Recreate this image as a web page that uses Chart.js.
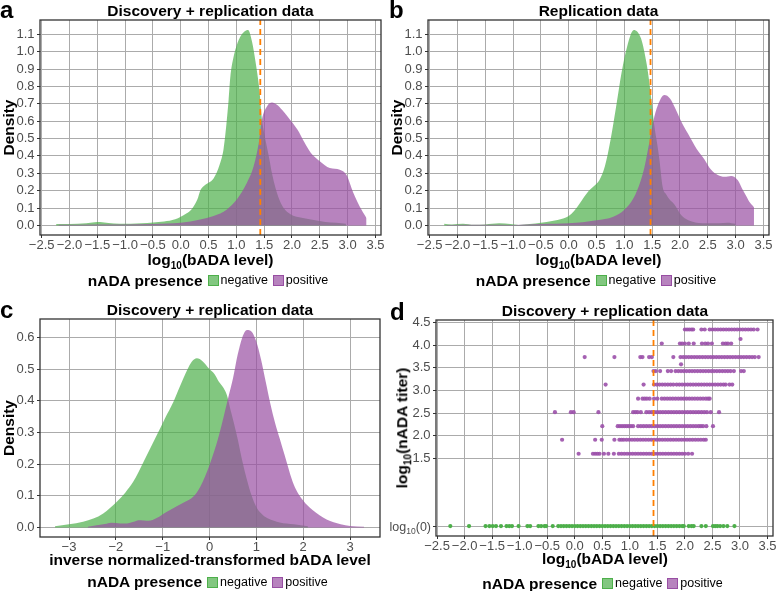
<!DOCTYPE html>
<html>
<head>
<meta charset="utf-8">
<script src="https://cdn.jsdelivr.net/npm/chart.js@4.4.1/dist/chart.umd.min.js"></script>
<style>
body { margin: 0; background: #fff; font-family: "Liberation Sans", Arial, sans-serif; }
#fig { position: relative; width: 777px; height: 591px; overflow: hidden; }
canvas { position: absolute; }
.lbl { position: absolute; line-height: 1; white-space: nowrap; color: #000; }
.letter { font-size: 24px; font-weight: bold; }
.ttl { font-size: 15.5px; font-weight: bold; text-align: center; }
.ttl sub { font-size: 10px; line-height: 0; vertical-align: -4px; }
.leg { display: flex; justify-content: center; align-items: center; height: 16px; }
.leg b { font-size: 15.5px; margin-right: 5px; line-height: 1; }
.leg i { display: inline-block; width: 9px; height: 9px; border: 1px solid; margin-right: 2px; }
.leg span { font-size: 12.5px; margin-right: 5px; line-height: 1; }
.leg .neg { background: rgba(77,175,74,0.7); border-color: #4DAF4A; }
.leg .pos { background: rgba(152,78,163,0.7); border-color: #984EA3; }
.rot { transform: translate(-50%, -50%) rotate(-90deg); }
</style>
</head>
<body>
<div id="fig">
  <canvas id="ca" width="388" height="255" style="left:0;top:0"></canvas>
  <canvas id="cb" width="389" height="255" style="left:388px;top:0"></canvas>
  <canvas id="cc" width="388" height="262" style="left:0;top:295px"></canvas>
  <canvas id="cd" width="389" height="261" style="left:388px;top:295px"></canvas>

  <div class="lbl letter" style="left:0;top:-2px">a</div>
  <div class="lbl letter" style="left:389px;top:-2px">b</div>
  <div class="lbl letter" style="left:0;top:298px">c</div>
  <div class="lbl letter" style="left:390px;top:300px">d</div>

  <div class="lbl ttl" style="left:40px;width:341px;top:2.6px">Discovery + replication data</div>
  <div class="lbl ttl" style="left:428px;width:341px;top:2.6px">Replication data</div>
  <div class="lbl ttl" style="left:40px;width:340px;top:302px">Discovery + replication data</div>
  <div class="lbl ttl" style="left:436px;width:338px;top:302.6px">Discovery + replication data</div>

  <div class="lbl ttl" style="left:40px;width:341px;top:252px">log<sub>10</sub>(bADA level)</div>
  <div class="lbl ttl" style="left:428px;width:341px;top:252px">log<sub>10</sub>(bADA level)</div>
  <div class="lbl ttl" style="left:40px;width:340px;top:552px">inverse normalized-transformed bADA level</div>
  <div class="lbl ttl" style="left:436px;width:338px;top:550.5px">log<sub>10</sub>(bADA level)</div>
  <div class="lbl ttl rot" style="left:401.7px;top:427.5px">log<sub>10</sub>(nADA titer)</div>

  <div class="lbl leg" style="left:40px;width:341px;top:272.7px"><b>nADA presence</b><i class="neg"></i><span>negative</span><i class="pos"></i><span>positive</span></div>
  <div class="lbl leg" style="left:428px;width:341px;top:272.7px"><b>nADA presence</b><i class="neg"></i><span>negative</span><i class="pos"></i><span>positive</span></div>
  <div class="lbl leg" style="left:40px;width:340px;top:574px"><b>nADA presence</b><i class="neg"></i><span>negative</span><i class="pos"></i><span>positive</span></div>
  <div class="lbl leg" style="left:436px;width:338px;top:575.3px"><b>nADA presence</b><i class="neg"></i><span>negative</span><i class="pos"></i><span>positive</span></div>
</div>

<script>
// ---- tick values ----
const abXTicks = [-2.5, -2, -1.5, -1, -0.5, 0, 0.5, 1, 1.5, 2, 2.5, 3, 3.5];
const abYTicks = [0, 0.1, 0.2, 0.3, 0.4, 0.5, 0.6, 0.7, 0.8, 0.9, 1.0, 1.1];
const cXTicks = [-3, -2, -1, 0, 1, 2, 3];
const cYTicks = [0, 0.1, 0.2, 0.3, 0.4, 0.5, 0.6];
const dYTicks = [0, 1.5, 2, 2.5, 3, 3.5, 4, 4.5];

// ---- panel a: density, discovery + replication ----
const aNegX = [-2.24, -2.0, -1.7, -1.55, -1.45, -1.3, -1.1, -0.9, -0.7, -0.5, -0.3, -0.1, 0.0, 0.1, 0.2, 0.3, 0.35, 0.41, 0.5, 0.59, 0.7, 0.77, 0.82, 0.86, 0.89, 0.95, 1.01, 1.07, 1.14, 1.21, 1.28, 1.35, 1.42, 1.44, 1.46, 1.5, 1.55, 1.6, 1.64, 1.7, 1.77, 1.85, 1.98, 2.15, 2.34, 2.6, 2.8, 2.97];
const aNegY = [0.008, 0.008, 0.012, 0.018, 0.02, 0.014, 0.01, 0.01, 0.012, 0.017, 0.022, 0.035, 0.05, 0.068, 0.095, 0.15, 0.2, 0.225, 0.245, 0.27, 0.35, 0.44, 0.58, 0.72, 0.85, 0.97, 1.04, 1.086, 1.115, 1.125, 1.06, 0.93, 0.76, 0.68, 0.61, 0.53, 0.45, 0.37, 0.3, 0.22, 0.15, 0.1, 0.063, 0.045, 0.034, 0.02, 0.015, 0.01];
const aPosX = [-2.2, -1.5, -1.0, -0.5, 0.0, 0.35, 0.59, 0.83, 1.01, 1.19, 1.31, 1.4, 1.46, 1.55, 1.64, 1.73, 1.82, 1.92, 2.1, 2.22, 2.34, 2.5, 2.68, 2.86, 2.98, 3.1, 3.25, 3.34];
const aPosY = [0.004, 0.006, 0.005, 0.008, 0.015, 0.034, 0.054, 0.092, 0.15, 0.245, 0.34, 0.47, 0.61, 0.685, 0.707, 0.694, 0.665, 0.627, 0.55, 0.48, 0.417, 0.37, 0.33, 0.32, 0.29, 0.19, 0.09, 0.042];
const aCut = 1.43;

// ---- panel b: density, replication ----
const bNegX = [-2.24, -2.1, -1.9, -1.7, -1.5, -1.25, -1.05, -0.9, -0.7, -0.5, -0.3, -0.1, 0.0, 0.1, 0.2, 0.35, 0.45, 0.55, 0.65, 0.75, 0.85, 0.95, 1.05, 1.17, 1.3, 1.4, 1.45, 1.5, 1.54, 1.59, 1.63, 1.69, 1.75, 1.81, 1.9, 2.02, 2.15, 2.4, 2.7, 2.85, 3.0];
const bNegY = [0.01, 0.006, 0.01, 0.004, 0.006, 0.012, 0.008, 0.003, 0.008, 0.015, 0.025, 0.04, 0.055, 0.085, 0.128, 0.195, 0.225, 0.26, 0.34, 0.49, 0.68, 0.88, 1.03, 1.125, 1.075, 0.93, 0.82, 0.68, 0.57, 0.47, 0.38, 0.22, 0.18, 0.15, 0.12, 0.06, 0.03, 0.013, 0.012, 0.016, 0.01];
const bPosX = [-2.2, -1.5, -1.0, -0.5, 0.0, 0.5, 0.8, 1.0, 1.2, 1.35, 1.45, 1.52, 1.6, 1.72, 1.82, 1.92, 2.02, 2.14, 2.3, 2.44, 2.56, 2.68, 2.8, 2.92, 3.04, 3.12, 3.19, 3.26, 3.33];
const bPosY = [0.003, 0.004, 0.003, 0.008, 0.012, 0.03, 0.05, 0.09, 0.18, 0.32, 0.48, 0.6, 0.69, 0.75, 0.73, 0.67, 0.6, 0.53, 0.44, 0.38, 0.32, 0.29, 0.28, 0.285, 0.26, 0.21, 0.17, 0.13, 0.105];
const bCut = 1.47;

// ---- panel c: density of inverse normal transformed level ----
const cNegX = [-3.3, -3.0, -2.7, -2.48, -2.27, -1.98, -1.8, -1.63, -1.4, -1.13, -0.95, -0.77, -0.56, -0.38, -0.27, -0.15, 0.0, 0.1, 0.2, 0.3, 0.37, 0.45, 0.52, 0.6, 0.7, 0.8, 0.9, 1.0, 1.1, 1.25, 1.5, 1.8, 2.1];
const cNegY = [0.004, 0.01, 0.018, 0.028, 0.044, 0.081, 0.11, 0.144, 0.21, 0.29, 0.345, 0.397, 0.47, 0.523, 0.534, 0.525, 0.5, 0.485, 0.46, 0.44, 0.418, 0.37, 0.33, 0.28, 0.21, 0.15, 0.1, 0.065, 0.045, 0.028, 0.016, 0.01, 0.004];
const cPosX = [-2.6, -2.41, -2.2, -2.09, -1.9, -1.77, -1.62, -1.52, -1.4, -1.3, -1.13, -0.91, -0.7, -0.52, -0.35, -0.2, 0.0, 0.2, 0.4, 0.5, 0.6, 0.7, 0.8, 0.9, 1.0, 1.1, 1.2, 1.3, 1.4, 1.5, 1.6, 1.8, 2.0, 2.2, 2.5, 2.8, 3.0, 3.3];
const cPosY = [0.002, 0.007, 0.012, 0.015, 0.013, 0.013, 0.018, 0.023, 0.022, 0.021, 0.03, 0.05, 0.067, 0.081, 0.097, 0.128, 0.197, 0.29, 0.41, 0.47, 0.545, 0.6, 0.623, 0.618, 0.586, 0.53, 0.46, 0.39, 0.33, 0.28, 0.23, 0.135, 0.085, 0.055, 0.025, 0.01, 0.005, 0.002];

// ---- panel d: titer vs level ----
const dCut = 1.43;
const negLevel = 0; // log10(0) row
const negX = [-2.26, -1.92, -1.62, -1.55, -1.49, -1.43, -1.34, -1.24, -1.19, -1.14, -1.02, -0.86, -0.81, -0.66, -0.61, -0.55, -0.52, -0.40,
  -0.30, -0.25, -0.20, -0.15, -0.10, -0.05, 0.00, 0.05, 0.10, 0.15, 0.20, 0.25, 0.30, 0.35, 0.40, 0.45, 0.50, 0.55, 0.60, 0.65, 0.70, 0.75,
  0.80, 0.85, 0.90, 0.95, 1.00, 1.05, 1.10, 1.15, 1.20, 1.25, 1.30, 1.35, 1.40, 1.45, 1.50, 1.55, 1.60, 1.65, 1.70, 1.75, 1.80, 1.85, 1.90,
  1.95, 1.98, 2.07, 2.12, 2.16, 2.30, 2.38, 2.51, 2.55, 2.59, 2.64, 2.70, 2.77, 2.90];
const posLevels = [1.60, 1.91, 2.21, 2.52, 2.82, 3.13, 3.43, 3.74, 4.04, 4.35];
const posRows = [
  [0.07, 0.33, 0.37, 0.41, 0.45, 0.53, 0.61, 0.71, 0.80, 0.85, 0.90, 0.95, 1.00, 1.05, 1.10, 1.15, 1.20, 1.25, 1.30, 1.35, 1.40, 1.45, 1.50, 1.55, 1.60, 1.65, 1.70, 1.75, 1.80, 1.85, 1.90, 1.95, 2.00, 2.06, 2.13],
  [-0.23, 0.37, 0.49, 0.72, 0.81, 0.85, 0.89, 0.94, 0.99, 1.04, 1.09, 1.14, 1.19, 1.24, 1.29, 1.34, 1.39, 1.44, 1.49, 1.54, 1.59, 1.64, 1.69, 1.74, 1.79, 1.84, 1.89, 1.94, 1.99, 2.04, 2.09, 2.14, 2.19, 2.24, 2.29, 2.34, 2.38],
  [0.50, 0.78, 0.82, 0.86, 0.90, 0.94, 0.98, 1.02, 1.06, 1.15, 1.20, 1.25, 1.30, 1.35, 1.40, 1.45, 1.50, 1.55, 1.60, 1.65, 1.70, 1.75, 1.80, 1.85, 1.90, 1.95, 2.00, 2.05, 2.10, 2.15, 2.20, 2.25, 2.29, 2.33, 2.39, 2.51],
  [-0.36, -0.07, -0.02, 0.43, 1.06, 1.10, 1.14, 1.20, 1.30, 1.35, 1.40, 1.45, 1.50, 1.55, 1.60, 1.65, 1.70, 1.75, 1.80, 1.85, 1.90, 1.95, 2.00, 2.05, 2.10, 2.15, 2.20, 2.25, 2.30, 2.35, 2.40, 2.47, 2.62],
  [1.15, 1.23, 1.27, 1.31, 1.36, 1.44, 1.50, 1.58, 1.63, 1.68, 1.73, 1.78, 1.83, 1.88, 1.93, 1.98, 2.03, 2.08, 2.13, 2.18, 2.23, 2.28, 2.33, 2.38, 2.42, 2.45],
  [0.56, 1.25, 1.44, 1.49, 1.54, 1.59, 1.64, 1.69, 1.74, 1.79, 1.85, 1.90, 1.95, 2.00, 2.05, 2.10, 2.15, 2.20, 2.25, 2.30, 2.35, 2.40, 2.45, 2.50, 2.55, 2.60, 2.65, 2.70, 2.74, 2.81, 2.86],
  [1.43, 1.47, 1.55, 1.69, 1.75, 1.83, 1.88, 1.93, 1.98, 2.03, 2.08, 2.13, 2.18, 2.23, 2.28, 2.33, 2.38, 2.43, 2.48, 2.53, 2.58, 2.63, 2.68, 2.73, 2.78, 2.83, 2.89, 3.02, 3.07],
  [0.18, 0.72, 1.19, 1.23, 1.35, 1.40, 1.79, 1.92, 1.97, 2.02, 2.07, 2.12, 2.17, 2.22, 2.27, 2.32, 2.37, 2.42, 2.47, 2.52, 2.57, 2.62, 2.67, 2.72, 2.77, 2.82, 2.87, 2.92, 2.97, 3.02, 3.07, 3.12, 3.17, 3.22, 3.27, 3.34],
  [1.58, 1.91, 1.95, 2.00, 2.07, 2.16, 2.31, 2.37, 2.42, 2.49, 2.69, 2.74, 2.78, 2.84],
  [2.00, 2.04, 2.08, 2.12, 2.15, 2.30, 2.36, 2.45, 2.50, 2.55, 2.60, 2.65, 2.70, 2.75, 2.80, 2.85, 2.90, 2.95, 3.00, 3.05, 3.10, 3.15, 3.20, 3.25, 3.32]
];
const extraX = [3.01, 1.93];
const extraY = [4.14, 3.58];

// ---- drawing ----
const FONT = '"Liberation Sans", Arial, sans-serif';
const GREEN = '#4DAF4A', PURPLE = '#984EA3', ORANGE = '#FF7F00';
const GREEN_FILL = 'rgba(77,175,74,0.7)', PURPLE_FILL = 'rgba(152,78,163,0.7)';
const TICK_SIZE = 13;

const pts = (xs, ys) => xs.map((x, i) => ({ x: x, y: ys[i] }));
const dec1 = v => v.toFixed(1).replace('-', '\u2212');
const int0 = v => String(v).replace('-', '\u2212');

// panel border on top of the data, like ggplot's panel.border
const frame = {
  id: 'frame',
  afterDatasetsDraw(chart) {
    const a = chart.chartArea, c = chart.ctx;
    c.save();
    c.strokeStyle = '#333';
    c.lineWidth = 1.3;
    c.strokeRect(a.left, a.top, a.right - a.left, a.bottom - a.top);
    c.restore();
  }
};

function axis(range, ticks, fmt, fit, pad) {
  return {
    type: 'linear',
    min: range[0],
    max: range[1],
    afterBuildTicks: s => { s.ticks = ticks.map(v => ({ value: v })); },
    afterFit: fit,
    ticks: {
      callback: v => fmt(v),
      color: '#4d4d4d',
      font: { family: FONT, size: TICK_SIZE },
      padding: pad,
      autoSkip: false,
      maxRotation: 0,
      minRotation: 0
    },
    grid: { color: '#ababab', lineWidth: 1, tickColor: '#333', tickLength: 3 },
    border: { display: false }
  };
}

function options(cfg) {
  const y = axis(cfg.yr, cfg.yt, cfg.yf, s => { s.width = cfg.yw; }, 2.5);
  if (cfg.ytitle) {
    y.title = { display: true, text: cfg.ytitle, color: '#000', font: { family: FONT, size: 15.5, weight: 'bold' }, padding: { top: 0, bottom: 0 } };
  }
  return {
    responsive: false,
    animation: false,
    devicePixelRatio: 1,
    layout: { padding: cfg.pad },
    plugins: { legend: { display: false }, tooltip: { enabled: false } },
    scales: { x: axis(cfg.xr, cfg.xt, cfg.xf, s => { s.height = 20; }, 0), y: y }
  };
}

function cutLine(x, yr) {
  return { type: 'line', data: [{ x: x, y: yr[0] }, { x: x, y: yr[1] }], borderColor: ORANGE, borderWidth: 1.8,
    borderDash: [6, 4], pointRadius: 0, fill: false, order: 0 };
}

function area(xs, ys, color, order) {
  return { type: 'line', data: pts(xs, ys), fill: 'origin', backgroundColor: color, borderWidth: 0,
    pointRadius: 0, cubicInterpolationMode: 'monotone', order: order };
}

const abXR = [-2.53, 3.6], abYR = [-0.055, 1.182];

new Chart(document.getElementById('ca'), {
  type: 'scatter',
  data: { datasets: [area(aNegX, aNegY, GREEN_FILL, 2), area(aPosX, aPosY, PURPLE_FILL, 1), cutLine(aCut, abYR)] },
  options: options({ pad: { left: 0, top: 20, right: 7, bottom: 0 }, xr: abXR, xt: abXTicks, xf: dec1,
    yr: abYR, yt: abYTicks, yf: dec1, yw: 40, ytitle: 'Density' }),
  plugins: [frame]
});

new Chart(document.getElementById('cb'), {
  type: 'scatter',
  data: { datasets: [area(bNegX, bNegY, GREEN_FILL, 2), area(bPosX, bPosY, PURPLE_FILL, 1), cutLine(bCut, abYR)] },
  options: options({ pad: { left: 0, top: 20, right: 8, bottom: 0 }, xr: abXR, xt: abXTicks, xf: dec1,
    yr: abYR, yt: abYTicks, yf: dec1, yw: 40, ytitle: 'Density' }),
  plugins: [frame]
});

new Chart(document.getElementById('cc'), {
  type: 'scatter',
  data: { datasets: [area(cNegX, cNegY, GREEN_FILL, 2), area(cPosX, cPosY, PURPLE_FILL, 1)] },
  options: options({ pad: { left: 0, top: 24, right: 8, bottom: 0 }, xr: [-3.62, 3.64], xt: cXTicks, xf: int0,
    yr: [-0.03, 0.658], yt: cYTicks, yf: dec1, yw: 40, ytitle: 'Density' }),
  plugins: [frame]
});

// "log10(0)" tick label with a real subscript
const zeroLabel = {
  id: 'zeroLabel',
  afterDraw(chart) {
    const s = chart.scales.y, c = chart.ctx;
    const py = s.getPixelForValue(negLevel);
    c.save();
    c.fillStyle = '#4d4d4d';
    c.textBaseline = 'alphabetic';
    const big = '12.5px ' + FONT, small = '8.5px ' + FONT;
    c.font = big; const w1 = c.measureText('log').width, w3 = c.measureText('(0)').width;
    c.font = small; const w2 = c.measureText('10').width;
    let x = s.right - 5 - (w1 + w2 + w3);
    c.font = big; c.fillText('log', x, py + 4.5); x += w1;
    c.font = small; c.fillText('10', x, py + 7.5); x += w2;
    c.font = big; c.fillText('(0)', x, py + 4.5);
    c.restore();
  }
};

const dYR = [-0.22, 4.56];
const posPts = posRows.flatMap((row, i) => row.map(x => ({ x: x, y: posLevels[i] }))).concat(pts(extraX, extraY));

new Chart(document.getElementById('cd'), {
  type: 'scatter',
  data: { datasets: [
    { data: negX.map(x => ({ x: x, y: negLevel })), backgroundColor: GREEN, borderWidth: 0, pointRadius: 2.1, order: 2 },
    { data: posPts, backgroundColor: 'rgba(155,80,170,0.9)', borderWidth: 0, pointRadius: 2.1, order: 1 },
    cutLine(dCut, dYR)
  ] },
  options: options({ pad: { left: 0, top: 25, right: 3, bottom: 0 }, xr: [-2.52, 3.6], xt: abXTicks, xf: dec1,
    yr: dYR, yt: dYTicks, yf: v => (v === negLevel ? '' : dec1(v)), yw: 48 }),
  plugins: [frame, zeroLabel]
});
</script>
</body>
</html>
